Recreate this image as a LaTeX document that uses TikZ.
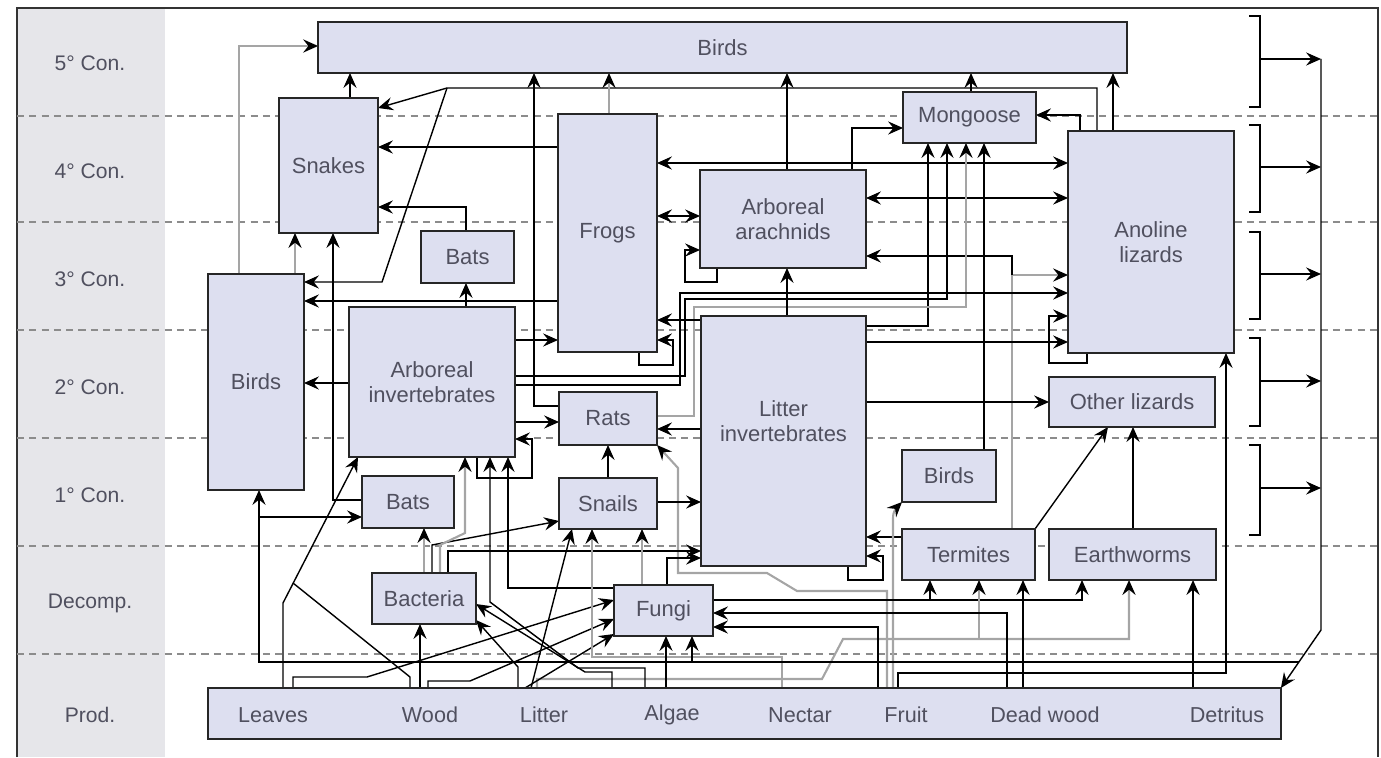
\documentclass[tikz,border=0pt]{standalone}
\usepackage{fontspec}
\setmainfont{Liberation Sans}
\usetikzlibrary{arrows.meta}
\definecolor{fwfill}{RGB}{221,223,240}
\definecolor{fwband}{RGB}{230,230,234}
\definecolor{fwtext}{RGB}{80,80,95}
\definecolor{fwgreyc}{RGB}{165,165,165}
\definecolor{fwdashc}{RGB}{140,140,140}
\pgfdeclarelayer{fwback}
\pgfdeclarelayer{fwedge}
\pgfsetlayers{fwback,fwedge,main}
\tikzset{
  fwbox/.style={rectangle, draw=black!85, line width=0.75pt, fill=fwfill,
                inner sep=0pt, outer sep=0pt, align=center, text=fwtext,
                font=\fontsize{12.5}{14.5}\selectfont},
  fwlabel/.style={align=center, text=fwtext, font=\fontsize{12.5}{14.5}\selectfont},
  fwrow/.style={text=fwtext, font=\fontsize{12}{14}\selectfont},
  fwline/.style={draw=black, line width=0.8pt},
  fwarrow/.style={fwline, -{Stealth[length=8.5pt,width=7.5pt,inset=3pt]}},
  fwboth/.style={fwline, {Stealth[length=8.5pt,width=7.5pt,inset=3pt]}-{Stealth[length=8.5pt,width=7.5pt,inset=3pt]}},
  fwgreyline/.style={draw=fwgreyc, line width=1.2pt},
  fwgrey/.style={fwgreyline, -{Stealth[length=8.5pt,width=7.5pt,inset=3pt,color=black]}},
  fwdash/.style={draw=fwdashc, line width=0.9pt, dash pattern=on 4pt off 3pt},
}

\begin{document}
\begin{tikzpicture}[x=0.02cm, y=-0.02cm]
  \useasboundingbox (0,0) rectangle (1381,757);

  % Levels
  \begin{pgfonlayer}{fwback}
    \fill[fwband] (17,8) rectangle (165,757);
    \draw[line width=0.8pt, black!80] (17,757) -- (17,8) -- (1378,8) -- (1378,757);
    \foreach \y in {116,222,330,438,546,654}
      \draw[fwdash] (17,\y) -- (1378,\y);
  \end{pgfonlayer}
  \foreach \y/\t [count=\i] in {63/5° Con., 171/4° Con., 279/3° Con., 387/2° Con.,
                                495/1° Con., 603/Decomp., 715/Prod.}
    \node[fwrow] (row\i) at (90,\y) {\t};

  % Boxes
  \node[fwbox, minimum width=16.18cm, minimum height=1.02cm] (birdsTop) at (722.5,47.5) {Birds};
  \node[fwbox, minimum width=1.98cm, minimum height=2.70cm] (snakes) at (328.5,165.5) {Snakes};
  \node[fwbox, minimum width=1.86cm, minimum height=1.04cm] (batsUp) at (467.5,257) {Bats};
  \node[fwbox, minimum width=1.98cm, minimum height=4.76cm] (frogs) at (607.5,233) {Frogs};
  \node[fwbox, minimum width=3.32cm, minimum height=1.96cm] (arachnids) at (783,219) {Arboreal\\arachnids};
  \node[fwbox, minimum width=2.66cm, minimum height=1.02cm] (mongoose) at (969.5,117.5) {Mongoose};
  \node[fwbox, minimum width=3.32cm, minimum height=4.44cm] (anoline) at (1151,242) {Anoline\\lizards};
  \node[fwbox, minimum width=1.92cm, minimum height=4.32cm] (birdsL) at (256,382) {Birds};
  \node[fwbox, minimum width=3.32cm, minimum height=3.00cm] (arbInv) at (432,382) {Arboreal\\invertebrates};
  \node[fwbox, minimum width=1.96cm, minimum height=1.06cm] (rats) at (608,418.5) {Rats};
  \node[fwbox, minimum width=3.30cm, minimum height=5.00cm,
        label={[fwlabel, yshift=0.4cm]center:Litter\\invertebrates}] (litter) at (783.5,441) {};
  \node[fwbox, minimum width=3.32cm, minimum height=1.00cm] (otherLiz) at (1132,402) {Other lizards};
  \node[fwbox, minimum width=1.88cm, minimum height=1.04cm] (birdsS) at (949,476) {Birds};
  \node[fwbox, minimum width=1.84cm, minimum height=1.04cm] (batsLo) at (408,502) {Bats};
  \node[fwbox, minimum width=1.96cm, minimum height=1.02cm] (snails) at (608,503.5) {Snails};
  \node[fwbox, minimum width=2.66cm, minimum height=1.02cm] (termites) at (968.5,554.5) {Termites};
  \node[fwbox, minimum width=3.34cm, minimum height=1.02cm] (earthworms) at (1132.5,554.5) {Earthworms};
  \node[fwbox, minimum width=2.08cm, minimum height=1.02cm] (bacteria) at (424,598.5) {Bacteria};
  \node[fwbox, minimum width=1.98cm, minimum height=1.02cm] (fungi) at (663.5,610.5) {Fungi};
  \node[fwbox, minimum width=21.46cm, minimum height=1.02cm] (prod) at (744.5,713.5) {};
  \foreach \x/\t [count=\i] in {273/Leaves, 430/Wood, 544/Litter, 672/Algae,
                                800/Nectar, 906/Fruit, 1045/Dead wood, 1227/Detritus}
    \node[fwrow, font=\fontsize{12.3}{14}\selectfont] (prodlab\i) at (\x,715) {\t};

  % Links
  \begin{pgfonlayer}{fwedge}
    % top consumers
    \coordinate (anoJ) at (447,88);
    \draw[fwarrow] (snakes.north -| 350,0) -- (birdsTop.south -| 350,0);
    \draw[fwarrow] (anoline.north -| 1097,0) |- (anoJ) -- (snakes.east |- 0,108);
    \draw[fwarrow] (anoJ) -- (382,282) -- (birdsL.east |- 0,282);
    \draw[fwarrow] (mongoose.north -| 971,0) -- (birdsTop.south -| 971,0);
    \draw[fwarrow] (anoline.north -| 1113,0) -- (birdsTop.south -| 1113,0);
    \draw[fwarrow] (anoline.north -| 1080,0) |- (mongoose.east |- 0,115);
    \draw[fwarrow] (rats.west |- 0,406) -| (birdsTop.south -| 534,0);
    \draw[fwgrey] (frogs.north -| 609,0) -- (birdsTop.south -| 609,0);
    \draw[fwarrow] (arachnids.north -| 787,0) -- (birdsTop.south -| 787,0);
    \draw[fwgrey] (birdsL.north -| 239,0) |- (birdsTop.west |- 0,46);
    \draw[fwgrey] (birdsL.north -| 295,0) -- (snakes.south -| 295,0);
    \draw[fwarrow] (batsLo.west |- 0,500) -| (snakes.south -| 333,0);
    \draw[fwarrow] (frogs.west |- 0,147) -- (snakes.east |- 0,147);
    \draw[fwarrow] (batsUp.north -| 466,0) |- (snakes.east |- 0,207);

    % middle consumers
    \coordinate (termJ) at (1012,275);
    \draw[fwboth] (frogs.east |- 0,163) -- (anoline.west |- 0,163);
    \draw[fwarrow] (arachnids.north -| 852,0) |- (mongoose.west |- 0,128);
    \draw[fwboth] (frogs.east |- 0,216) -- (arachnids.west |- 0,216);
    \draw[fwboth] (arachnids.east |- 0,198) -- (anoline.west |- 0,198);
    \draw[fwgrey] (termites.north -| 1012,0) -- (termJ) -- (anoline.west |- 0,275);
    \draw[fwarrow] (termJ) |- (arachnids.east |- 0,256);
    \draw[fwarrow] (litter.east |- 0,326) -| (mongoose.south -| 928,0);
    \draw[fwarrow] (arbInv.east |- 0,376) -| (685,299) -| (mongoose.south -| 947,0);
    \draw[fwgrey] (rats.east |- 0,416) -| (694,307) -| (mongoose.south -| 966,0);
    \draw[fwarrow] (arbInv.east |- 0,385) -| (680,293) -- (anoline.west |- 0,293);
    \draw[fwarrow] (birdsS.north -| 984,0) -- (mongoose.south -| 984,0);
    \draw[fwarrow] (litter.east |- 0,342) -- (anoline.west |- 0,342);
    \draw[fwarrow] (anoline.south -| 1087,0) |- (1049,363) |- (anoline.west |- 0,316);
    \draw[fwarrow] (prod.north -| 898,0) |- (1226,673) -- (anoline.south -| 1226,0);
    \draw[fwarrow] (litter.north -| 787,0) -- (arachnids.south -| 787,0);
    \draw[fwarrow] (litter.west |- 0,320) -- (frogs.east |- 0,320);
    \draw[fwarrow] (frogs.south -| 639,0) |- (673,365) |- (frogs.east |- 0,340);
    \draw[fwarrow] (arachnids.south -| 717,0) |- (685,282) |- (arachnids.west |- 0,250);
    \draw[fwarrow] (arbInv.east |- 0,340) -- (frogs.west |- 0,340);
    \draw[fwarrow] (arbInv.east |- 0,422) -- (rats.west |- 0,422);
    \draw[fwarrow] (arbInv.north -| 466,0) -- (batsUp.south -| 466,0);
    \draw[fwarrow] (arbInv.west |- 0,383) -- (birdsL.east |- 0,383);
    \draw[fwarrow] (frogs.west |- 0,301) -- (birdsL.east |- 0,301);
    \draw[fwarrow] (litter.west |- 0,429) -- (rats.east |- 0,429);
    \draw[fwgrey] (prod.north -| 887,0) |- (797,591) -- (767,573) -| (678,468) -- (rats.south east);
    \draw[fwarrow] (snails.north -| 608,0) -- (rats.south -| 608,0);
    \draw[fwarrow] (snails.east |- 0,502) -- (litter.west |- 0,502);
    \draw[fwarrow] (termites.west |- 0,537) -- (litter.east |- 0,537);
    \draw[fwarrow] (litter.south -| 848,0) |- (883,580) |- (litter.east |- 0,556);
    \draw[fwarrow] (litter.east |- 0,402) -- (otherLiz.west |- 0,402);
    \draw[fwarrow] (termites.north east) -- (otherLiz.south -| 1108,0);
    \draw[fwarrow] (earthworms.north -| 1133,0) -- (otherLiz.south -| 1133,0);
    \draw[fwgrey] (prod.north -| 893,0) -- (893,518) to[out=90, in=225] (birdsS.south west);

    % decomposers and producers
    \coordinate (litJ) at (979,639);
    \draw[fwarrow] (fungi.east |- 0,600) -| (earthworms.south -| 1082,0);
    \draw[fwarrow] (930,600) -- (termites.south -| 930,0);
    \draw[fwgrey] (prod.north -| 537,0) |- (822,679) -- (843,639) -| (earthworms.south -| 1129,0);
    \draw[fwgrey] (litJ) -- (termites.south -| 979,0);
    \draw[fwarrow] (prod.north -| 1023,0) -- (termites.south -| 1023,0);
    \draw[fwarrow] (prod.north -| 1193,0) -- (earthworms.south -| 1193,0);
    \draw[fwarrow] (prod.north -| 1007,0) |- (fungi.east |- 0,613);
    \draw[fwarrow] (prod.north -| 878,0) |- (fungi.east |- 0,627);
    \draw[fwarrow] (fungi.north -| 667,0) |- (litter.west |- 0,558);
    \draw[fwgrey] (bacteria.north -| 424,0) -- (batsLo.south -| 424,0);
    \draw[fwarrow] (bacteria.north -| 432,0) -- (432,545) -- (snails.west |- 0,521);
    \draw[fwgrey] (bacteria.north -| 440,0) -- (440,545) -- (465,533) -- (arbInv.south -| 465,0);
    \draw[fwarrow] (bacteria.north -| 448,0) |- (litter.west |- 0,551);
    \draw[fwarrow] (prod.north -| 283,0) -- (283,603) -- (arbInv.south -| 358,0);
    \draw[fwline] (prod.north -| 410,0) -- (410,677) -- (293,583);
    \draw[fwarrow] (prod.north -| 645,0) -- (645,668) -- (578,668) -- (490,602) -- (arbInv.south -| 490,0);
    \draw[fwarrow] (fungi.west |- 0,588) -| (arbInv.south -| 508,0);
    \draw[fwarrow] (arbInv.south -| 477,0) |- (532,478) |- (arbInv.east |- 0,439);
    \draw[fwarrow] (prod.north -| 612,0) -- (612,672) -- (585,672) -- (bacteria.east |- 0,604);
    \draw[fwarrow] (prod.north -| 518,0) -- (518,667) -- (bacteria.east |- 0,620);
    \draw[fwarrow] (prod.north -| 420,0) -- (bacteria.south -| 420,0);
    \draw[fwarrow] (prod.north -| 293,0) |- (367,677) -- (fungi.west |- 0,600);
    \draw[fwarrow] (prod.north -| 428,0) |- (470,681) -- (fungi.west |- 0,619);
    \draw[fwarrow] (prod.north -| 525,0) -- (fungi.west |- 0,634);
    \draw[fwarrow] (prod.north -| 531,0) -- (snails.south -| 572,0);
    \draw[fwgrey] (fungi.north -| 642,0) -- (snails.south -| 642,0);
    \draw[fwgrey] (prod.north -| 782,0) |- (592,657) -- (snails.south -| 592,0);
    \draw[fwarrow] (prod.north -| 666,0) -- (fungi.south -| 666,0);

    % dead matter back to detritus
    \coordinate (colTop) at (1321,59);
    \coordinate (colBend) at (1321,630);
    \coordinate (detJ) at (1299,662);
    \foreach \t/\m/\b in {16/59/107, 125/167/212, 232/274/319, 338/381/426, 445/488/535} {
      \draw[fwline, line width=0.6pt] (1249,\t) -- (1260,\t) -- (1260,\b) -- (1249,\b);
      \draw[fwarrow] (1260,\m) -- (colTop |- 0,\m);
    }
    \draw[fwarrow] (colTop) -- (colBend) -- (prod.north east);
    \draw[fwarrow] (detJ) -| (birdsL.south -| 259,0);
    \draw[fwarrow] (259,517) -- (batsLo.west |- 0,517);
    \draw[fwarrow] (692,662) -- (fungi.south -| 692,0);
  \end{pgfonlayer}
\end{tikzpicture}
\end{document}
